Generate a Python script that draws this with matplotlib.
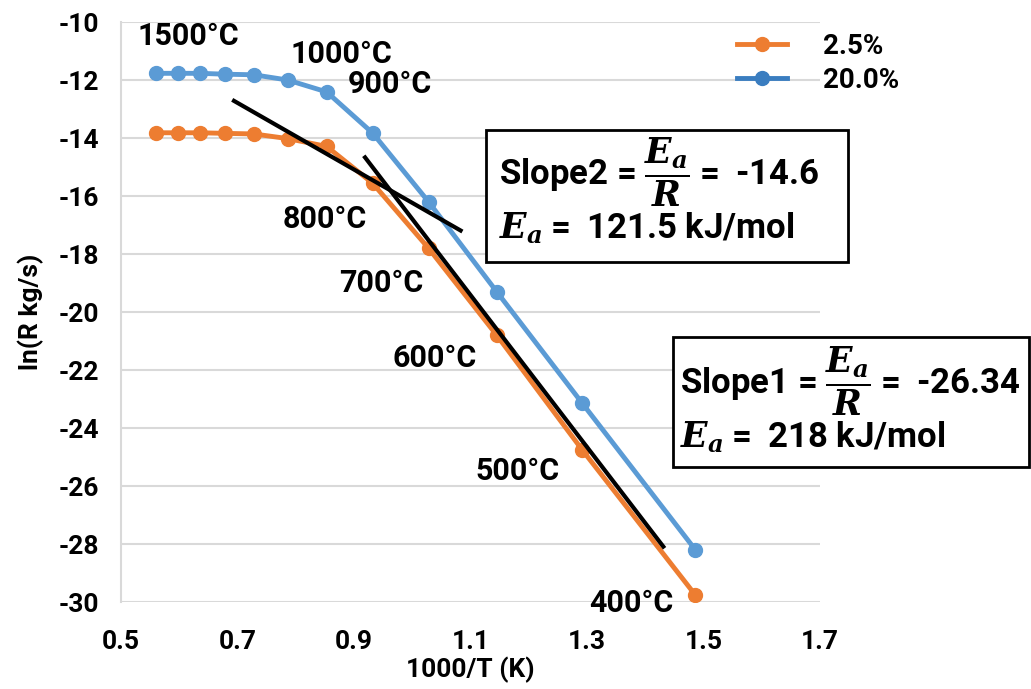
import matplotlib
matplotlib.use("Agg")
import matplotlib.pyplot as plt
from matplotlib.lines import Line2D
from matplotlib.patches import Rectangle

# ---- data ----
inv_T = [0.560, 0.598, 0.636, 0.679, 0.728, 0.786, 0.853, 0.932, 1.028, 1.145, 1.292, 1.486]
ln_r_2_5 = [-13.82, -13.82, -13.82, -13.84, -13.86, -14.02, -14.29, -15.56, -17.80, -20.80, -24.76, -29.76]
ln_r_20 = [-11.77, -11.77, -11.77, -11.80, -11.82, -12.00, -12.41, -13.83, -16.20, -19.30, -23.15, -28.20]
series_labels = ["2.5%", "20.0%"]

fit2_x = [0.694, 1.083]
fit2_y = [-12.72, -17.19]
fit1_x = [0.919, 1.431]
fit1_y = [-14.67, -28.09]

temp_labels = ["1500°C", "1000°C", "900°C", "800°C", "700°C", "600°C", "500°C", "400°C"]
temp_x = [0.615, 0.879, 0.962, 0.850, 0.946, 1.039, 1.180, 1.376]
temp_y = [-10.79, -11.41, -12.45, -17.10, -19.31, -21.90, -25.79, -30.34]

x_ticks = [0.5, 0.7, 0.9, 1.1, 1.3, 1.5, 1.7]
y_ticks = [-10, -12, -14, -16, -18, -20, -22, -24, -26, -28, -30]

box2_lines = [r"Slope2 = $\dfrac{E_a}{R} =$ -14.6", r"$E_a =$ 121.5 kJ/mol"]
box1_lines = [r"Slope1 = $\dfrac{E_a}{R} =$ -26.34", r"$E_a =$ 218 kJ/mol"]

# ---- style ----
FONT = "Roboto"
plt.rcParams["font.family"] = [FONT, "DejaVu Sans"]
plt.rcParams["font.weight"] = "bold"
plt.rcParams["mathtext.fontset"] = "custom"
plt.rcParams["mathtext.rm"] = FONT + ":bold"
plt.rcParams["mathtext.it"] = "DejaVu Serif:italic:bold"
plt.rcParams["mathtext.bf"] = "DejaVu Serif:bold"

ORANGE = "#ED7D31"
BLUE = "#5B9BD5"
BLUE_LEG = "#3A7DC0"
GRID = "#D9D9D9"

W, H = 1031, 689
fig = plt.figure(figsize=(W / 100, H / 100), dpi=100)
ax = fig.add_axes([121 / W, 1 - 602 / H, (820 - 121) / W, (602 - 22) / H])

ax.plot(inv_T, ln_r_2_5, color=ORANGE, lw=3.5, marker="o", ms=10, zorder=3)
ax.plot(inv_T, ln_r_20, color=BLUE, lw=3.5, marker="o", ms=10, zorder=3)
ax.plot(fit2_x, fit2_y, color="black", lw=3, zorder=4)
ax.plot(fit1_x, fit1_y, color="black", lw=3, zorder=4)

ax.set_xlim(0.5, 1.7)
ax.set_ylim(-30, -10)
ax.set_xticks(x_ticks)
ax.set_xticklabels([f"{v:.1f}" for v in x_ticks])
ax.set_yticks(y_ticks)
ax.set_yticklabels([str(v) for v in y_ticks])
ax.tick_params(axis="both", length=0, labelsize=19)
ax.tick_params(axis="x", pad=20)
ax.tick_params(axis="y", pad=16)
ax.grid(axis="y", color=GRID, lw=1.5)
ax.set_axisbelow(True)
for s in ["top", "right", "bottom"]:
    ax.spines[s].set_visible(False)
ax.spines["left"].set_color(GRID)
ax.spines["left"].set_linewidth(1.5)

ax.set_xlabel("1000/T (K)", fontsize=19, fontweight="bold", labelpad=2)
ax.set_ylabel("ln(R kg/s)", fontsize=19, fontweight="bold", labelpad=10)

for t, x, y in zip(temp_labels, temp_x, temp_y):
    ax.text(x, y, t, fontsize=22, fontweight="bold", ha="center", va="baseline", zorder=5)

# legend
handles = [
    Line2D([], [], color=ORANGE, lw=3.5, marker="o", ms=10),
    Line2D([], [], color=BLUE_LEG, lw=3.5, marker="o", ms=10),
]
fig.legend(handles, series_labels, loc="upper left",
           bbox_to_anchor=(712 / W, 1 - 8 / H), frameon=False,
           handlelength=1.8, handletextpad=1.3, labelspacing=0.25,
           prop={"weight": "bold", "size": 20})

# text boxes
def box(x0, y0, x1, y1, lines, tx, ty1, ty2):
    fig.patches.append(Rectangle((x0 / W, 1 - y1 / H), (x1 - x0) / W, (y1 - y0) / H,
                                 transform=fig.transFigure, fill=True, facecolor="white",
                                 edgecolor="black", lw=2, zorder=6))
    fig.text(tx / W, 1 - ty1 / H, lines[0], fontsize=25, fontweight="bold",
             ha="left", va="center", zorder=7)
    fig.text(tx / W, 1 - ty2 / H, lines[1], fontsize=25, fontweight="bold",
             ha="left", va="center", zorder=7)

box(486, 130, 848, 262, box2_lines, 499, 172, 228)
box(673, 337, 1029, 467, box1_lines, 680, 381, 437)

fig.savefig("out.png", dpi=100)
